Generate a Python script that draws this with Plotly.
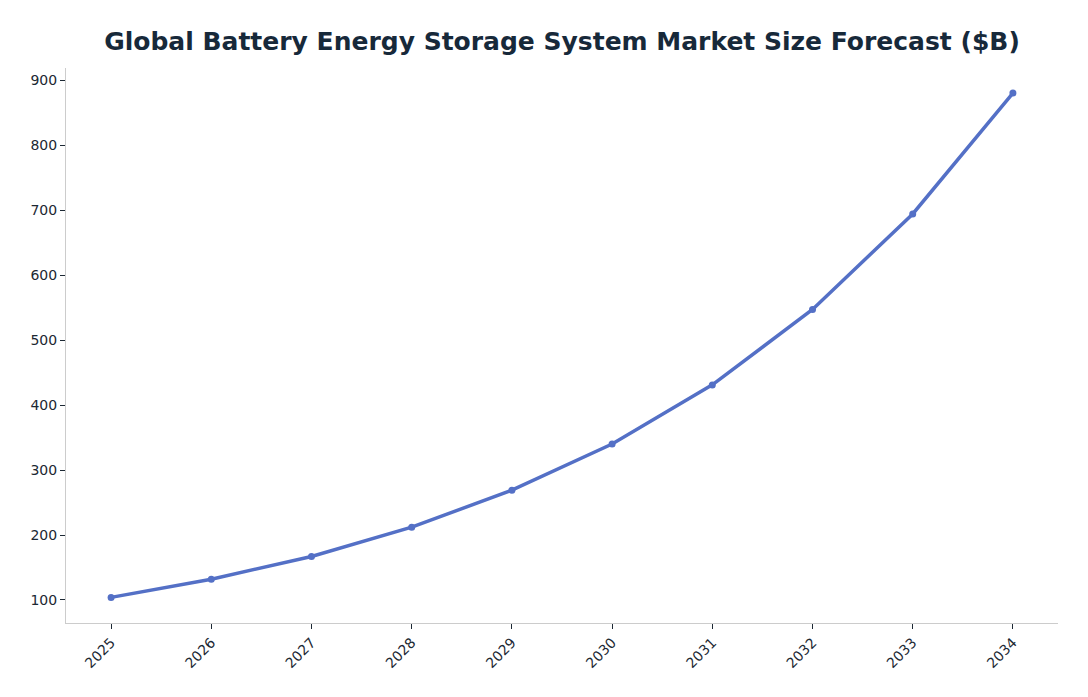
import plotly.graph_objects as go

years = ['2025', '2026', '2027', '2028', '2029', '2030', '2031', '2032', '2033', '2034']
market_size = [104, 132, 167, 212, 269, 340, 431, 547, 694, 880]

line_color = '#5470c6'
text_color = '#1c2833'
axis_color = '#cccccc'

fig = go.Figure()
fig.add_trace(go.Scatter(
    x=years, y=market_size,
    mode='lines+markers',
    line=dict(color=line_color, width=3.5),
    marker=dict(color=line_color, size=7),
    showlegend=False,
))

# page has an 8px body margin, so the figure is a bit smaller than the window
fig.update_layout(
    width=1080, height=689,
    margin=dict(l=58, r=30, t=60, b=74),
    plot_bgcolor='white', paper_bgcolor='white',
    font=dict(family='DejaVu Sans', size=14, color=text_color),
    title=dict(text='<b>Global Battery Energy Storage System Market Size Forecast ($B)</b>',
               x=0.5, xref='paper', y=0.952, yref='container', yanchor='middle',
               font=dict(family='DejaVu Sans', size=25, color='#17293a')),
)
fig.update_xaxes(
    type='category', range=[-0.45, 9.45],
    showline=True, linecolor=axis_color, linewidth=1,
    ticks='outside', tickcolor=text_color, ticklen=5,
    tickangle=-45, showgrid=False, zeroline=False,
)
fig.update_yaxes(
    range=[64.6, 918.6], tickvals=[100, 200, 300, 400, 500, 600, 700, 800, 900],
    showline=True, linecolor=axis_color, linewidth=1,
    ticks='outside', tickcolor=text_color, ticklen=5,
    showgrid=False, zeroline=False,
)

fig.write_html('out.html')
